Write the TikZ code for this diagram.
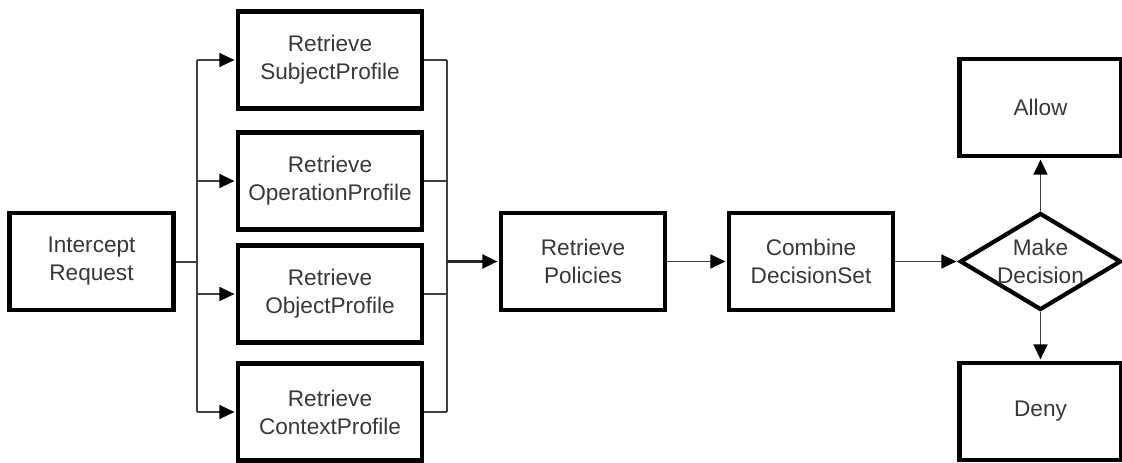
\documentclass[tikz,border=0pt]{standalone}
\usepackage{fontspec}
\setmainfont{Liberation Sans}
\usetikzlibrary{arrows.meta,shapes.geometric}
\begin{document}
\begin{tikzpicture}[x=1pt,y=-1pt,
  txt/.style={text=black!78, font=\fontsize{22.6}{28}\selectfont, align=center},
  box/.style={draw=black, line width=4.2pt, fill=white, minimum width=164pt,
    minimum height=97pt, inner sep=0pt, txt},
  wide/.style={box, minimum width=184pt},
  choice/.style={diamond, draw=black, line width=4.2pt, fill=white,
    minimum width=161pt, minimum height=97pt, inner sep=0pt},
  conn/.style={draw=black!75, line width=1.4pt},
  arr/.style={conn, -{Triangle[length=15pt,width=14pt,black]}, shorten >=1.5pt}]
\useasboundingbox (0,0) rectangle (1122,463);

% process boxes
\node[box] (intercept) at (91.5,261.5) {Intercept\\Request};
\node[wide] (subj) at (330,60) {Retrieve\\SubjectProfile};
\node[wide] (oper) at (330,181) {Retrieve\\OperationProfile};
\node[wide] (obj) at (330,294) {Retrieve\\ObjectProfile};
\node[wide] (ctx) at (330,412) {Retrieve\\ContextProfile};
\node[box] (pol) at (583,261.5) {Retrieve\\Policies};
\node[box] (comb) at (811,261.5) {Combine\\DecisionSet};
\node[choice, label={[txt]center:Make\\Decision}] (dec) at (1040.5,261.5) {};
\node[box, minimum width=162pt] (allow) at (1040.5,107.5) {Allow};
\node[box, minimum width=162pt] (deny) at (1040.5,411.5) {Deny};

% fan-out and fan-in buses
\coordinate (tr) at (197,261.5);
\coordinate (bus) at (447,261.5);

\draw[conn, line width=2pt] (intercept.east) -- (tr);
\draw[conn] (subj.west -| tr) -- (ctx.west -| tr);
\foreach \n in {subj,oper,obj,ctx} {
  \draw[arr] (\n.west -| tr) -- (\n.west);
  \draw[conn] (\n.east) -- (\n.east -| bus);
}
\draw[conn] (subj.east -| bus) -- (ctx.east -| bus);
\draw[arr, line width=2.4pt, draw=black!85] (bus) -- (pol.west);

% main flow
\draw[arr] (pol.east) -- (comb.west);
\draw[arr] (comb.east) -- (dec.west);
\draw[arr] (dec.north) -- (allow.south);
\draw[arr] (dec.south) -- (deny.north);
\end{tikzpicture}
\end{document}
